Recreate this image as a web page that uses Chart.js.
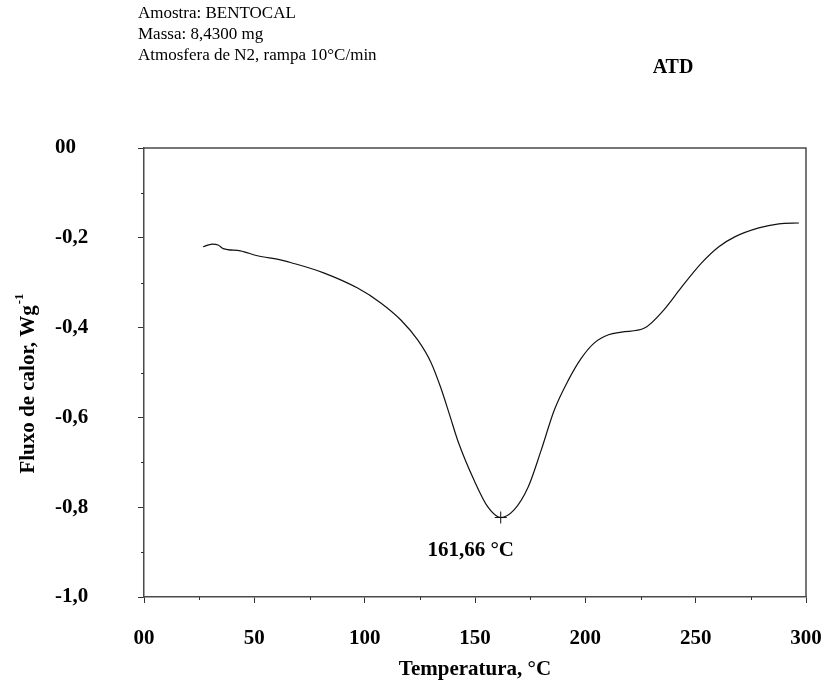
<!DOCTYPE html>
<html>
<head>
<meta charset="utf-8">
<title>ATD - BENTOCAL</title>
<script src="https://cdn.jsdelivr.net/npm/chart.js@4/dist/chart.umd.min.js"></script>
<style>
  html, body { margin: 0; padding: 0; background: #fff; }
  #wrap { width: 831px; height: 683px; }
</style>
</head>
<body>
<div id="wrap"><canvas id="c" width="831" height="683"></canvas></div>
<script>
// DTA curve of the BENTOCAL sample (temperature in °C, heat flow in W/g)
const temperature = [26.8, 30.9, 33.6, 35.9, 43.6, 51.4, 61.8, 66.4, 81.4, 96.8,
  107.3, 116.4, 124.1, 130.0, 134.5, 138.6, 142.3, 149.5, 155.9, 161.66,
  167.7, 174.1, 180.0, 185.9, 192.3, 198.2, 204.1, 210.5, 216.4, 226.8,
  235.5, 243.6, 252.7, 260.5, 267.7, 278.6, 287.7, 296.8];
const heatFlow = [-0.220, -0.214, -0.216, -0.224, -0.229, -0.240, -0.249, -0.255, -0.278, -0.312,
  -0.345, -0.383, -0.428, -0.477, -0.534, -0.596, -0.653, -0.739, -0.800, -0.823,
  -0.806, -0.755, -0.673, -0.584, -0.517, -0.468, -0.434, -0.416, -0.410, -0.401,
  -0.361, -0.310, -0.256, -0.220, -0.198, -0.178, -0.169, -0.167];

// endothermic peak
const peakTemp = 161.66;
const peakFlow = -0.823;

// axis ticks
const xTickValues = [0, 50, 100, 150, 200, 250, 300];
const xTickLabels = ['00', '50', '100', '150', '200', '250', '300'];
const xMinorTicks = [25, 75, 125, 175, 225, 275];
const yTickValues = [0, -0.2, -0.4, -0.6, -0.8, -1.0];
const yTickLabels = ['00', '-0,2', '-0,4', '-0,6', '-0,8', '-1,0'];
const yMinorTicks = [-0.1, -0.3, -0.5, -0.7, -0.9];

// header text
const headerLines = ['Amostra: BENTOCAL', 'Massa: 8,4300 mg', 'Atmosfera de N2, rampa 10\u00B0C/min'];
const chartTitle = 'ATD';
const xTitle = 'Temperatura, \u00B0C';
const yTitle = 'Fluxo de calor, Wg';
const yTitleSup = '-1';

const SERIF = "'Liberation Serif', 'Times New Roman', serif";
const AXIS_COLOR = '#4a4a4a';

const curve = temperature.map((t, i) => ({ x: t, y: heatFlow[i] }));

function labelFor(values, labels, v) {
  const i = values.findIndex(t => Math.abs(t - v) < 1e-6);
  return i >= 0 ? labels[i] : '';
}

// frame, minor ticks, header and free labels
const decorations = {
  id: 'decorations',
  afterDraw(chart) {
    const ctx = chart.ctx;
    const { left, right, top, bottom } = chart.chartArea;
    const xs = chart.scales.x, ys = chart.scales.y;
    ctx.save();

    // top and right edges of the frame
    ctx.strokeStyle = AXIS_COLOR;
    ctx.lineWidth = 1.5;
    ctx.beginPath();
    ctx.moveTo(left, top);
    ctx.lineTo(right, top);
    ctx.lineTo(right, bottom);
    ctx.stroke();

    // minor ticks
    ctx.lineWidth = 1;
    ctx.strokeStyle = '#333';
    ctx.beginPath();
    xMinorTicks.forEach(v => {
      const px = Math.round(xs.getPixelForValue(v)) + 0.5;
      ctx.moveTo(px, bottom);
      ctx.lineTo(px, bottom + 3);
    });
    yMinorTicks.forEach(v => {
      const py = Math.round(ys.getPixelForValue(v)) + 0.5;
      ctx.moveTo(left, py);
      ctx.lineTo(left - 3, py);
    });
    ctx.stroke();

    // header
    ctx.fillStyle = '#000';
    ctx.textAlign = 'left';
    ctx.textBaseline = 'middle';
    ctx.font = '17px ' + SERIF;
    headerLines.forEach((line, i) => ctx.fillText(line, 138, 14 + i * 21));

    ctx.font = 'bold 20px ' + SERIF;
    ctx.textAlign = 'center';
    ctx.fillText(chartTitle, 673, 68);

    // y axis title with superscript
    ctx.save();
    ctx.translate(27, 384);
    ctx.rotate(-Math.PI / 2);
    ctx.font = 'bold 21px ' + SERIF;
    const mainW = ctx.measureText(yTitle).width;
    ctx.font = 'bold 13px ' + SERIF;
    const supW = ctx.measureText(yTitleSup).width;
    const startX = -(mainW + supW) / 2;
    ctx.textAlign = 'left';
    ctx.textBaseline = 'alphabetic';
    ctx.font = 'bold 21px ' + SERIF;
    ctx.fillText(yTitle, startX, 7);
    ctx.font = 'bold 13px ' + SERIF;
    ctx.fillText(yTitleSup, startX + mainW + 1, -4);
    ctx.restore();

    // peak temperature label
    const px = xs.getPixelForValue(peakTemp);
    const py = ys.getPixelForValue(peakFlow);
    ctx.font = 'bold 21px ' + SERIF;
    ctx.textAlign = 'center';
    ctx.textBaseline = 'middle';
    ctx.fillText(peakTemp.toFixed(2).replace('.', ',') + ' \u00B0C', px - 30, py + 33);

    ctx.restore();
  }
};

new Chart(document.getElementById('c'), {
  type: 'scatter',
  data: {
    datasets: [
      {
        data: curve,
        showLine: true,
        borderColor: '#111',
        borderWidth: 1.2,
        pointRadius: 0,
        cubicInterpolationMode: 'monotone',
        fill: false
      },
      {
        data: [{ x: peakTemp, y: peakFlow }],
        showLine: false,
        pointStyle: 'cross',
        pointRadius: 6,
        borderColor: '#111',
        borderWidth: 1,
        backgroundColor: '#111'
      }
    ]
  },
  options: {
    responsive: false,
    animation: false,
    events: [],
    layout: { padding: { left: 55, right: 25, top: 148, bottom: 0 } },
    plugins: {
      legend: { display: false },
      tooltip: { enabled: false }
    },
    scales: {
      x: {
        type: 'linear',
        min: 0,
        max: 300,
        afterBuildTicks: s => { s.ticks = xTickValues.map(v => ({ value: v })); },
        afterFit: s => { s.height = 86; s.paddingLeft = 0; s.paddingRight = 0; },
        grid: { display: true, drawOnChartArea: false, drawTicks: true, tickLength: 6, tickColor: '#333', tickWidth: 1 },
        border: { display: true, color: AXIS_COLOR, width: 1.5 },
        ticks: {
          color: '#000',
          font: { family: SERIF, size: 21, weight: 'bold' },
          padding: 23,
          maxRotation: 0,
          autoSkip: false,
          callback: v => labelFor(xTickValues, xTickLabels, v)
        },
        title: {
          display: true,
          text: xTitle,
          color: '#000',
          font: { family: SERIF, size: 21, weight: 'bold' },
          padding: { top: 0, bottom: 1 }
        }
      },
      y: {
        type: 'linear',
        min: -1.0,
        max: 0,
        afterBuildTicks: s => { s.ticks = yTickValues.slice().reverse().map(v => ({ value: v })); },
        afterFit: s => { s.width = 89; s.paddingTop = 0; s.paddingBottom = 0; },
        grid: { display: true, drawOnChartArea: false, drawTicks: true, tickLength: 6, tickColor: '#333', tickWidth: 1 },
        border: { display: true, color: AXIS_COLOR, width: 1.5 },
        ticks: {
          color: '#000',
          font: { family: SERIF, size: 21, weight: 'bold' },
          crossAlign: 'far',
          autoSkip: false,
          callback: v => labelFor(yTickValues, yTickLabels, v)
        }
      }
    }
  },
  plugins: [decorations]
});
</script>
</body>
</html>
